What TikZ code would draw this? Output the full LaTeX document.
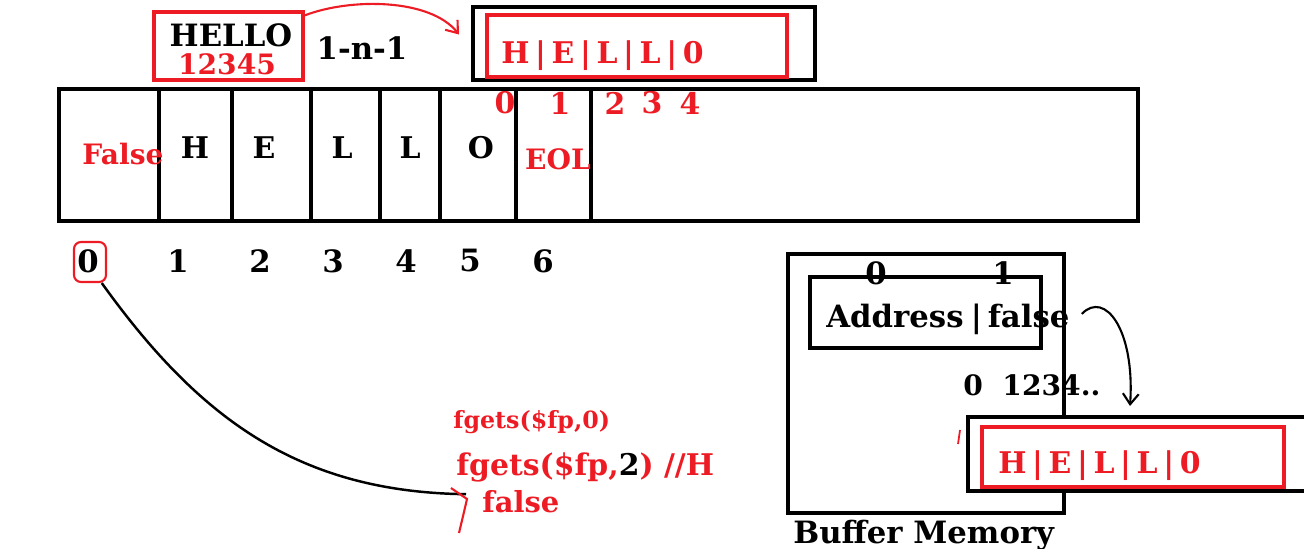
\documentclass[tikz,border=0pt]{standalone}
\usepackage{fontspec}
\setmainfont{DejaVu Serif}
\usepackage{tikz}
\usetikzlibrary{arrows.meta,fit}
\definecolor{paintred}{RGB}{237,28,36}
\newcommand{\sepbar}{\hspace{3.2pt}|\hspace{3.2pt}}

\begin{document}
\begin{tikzpicture}[
  x=0.02cm, y=-0.02cm,
  >={Straight Barb[length=6pt,width=9pt]},
  blackbox/.style={draw=black, line width=2.3pt, inner sep=0pt},
  redbox/.style={draw=paintred, line width=2.2pt, inner sep=0pt},
  bigtext/.style={font=\bfseries\fontsize{17.5}{17.5}\selectfont, inner sep=0pt},
  cellchar/.style={font=\bfseries\fontsize{17}{17}\selectfont, inner sep=0pt},
  notetext/.style={font=\bfseries\fontsize{13.5}{13.5}\selectfont, inner sep=0pt, text=paintred},
  redtext/.style={text=paintred},
]
\useasboundingbox (0,0) rectangle (1304,548);

% === Source string ===
\node[redbox, fit={(154,12)(303,80)}] (hellobox) {};
\node[bigtext] (hello) at (231,35) {HELLO};
\node[bigtext, redtext, font=\bfseries\fontsize{16}{16}\selectfont] (digits) at (227,64) {12345};
\node[bigtext] (ratio) at (362,48) {1-n-1};

% === Read buffer (top) ===
\node[blackbox, fit={(473,7)(815,80)}] (topbuf) {};
\node[redbox, fit={(487,15)(787,77)}] (topred) {};
\node[cellchar, redtext, anchor=base west] (topchars) at (501,63)
  {H\sepbar E\sepbar L\sepbar L\sepbar 0};
\foreach \x/\d in {505/0,560/1,615/2,652/3,690/4}
  \node[cellchar, redtext] (top\d) at (\x,103) {\d};

\draw[paintred, line width=1.2pt, ->] ([yshift=-3pt]hellobox.north east)
  .. controls (350,-2) and (430,-2) .. ([shift={(-12,-9)}]topbuf.west);

% === File array ===
\draw[blackbox] (59,89) rectangle (1138,221);
\foreach \x in {159,232,311,380,440,516,591}
  \draw[blackbox] (\x,89) -- (\x,221);

\node[cellchar, redtext, font=\bfseries\fontsize{16}{16}\selectfont, anchor=base]
  (falsecell) at (123,164) {False};
\foreach \x/\c [count=\i] in {195/H,264/E,342/L,410/L,481/O}
  \node[cellchar] (cell\i) at (\x,148) {\c};
\node[cellchar, redtext, font=\bfseries\fontsize{16}{16}\selectfont] (eol) at (558,159) {EOL};

\foreach \x [count=\i from 0] in {88,178,260,333,406,470,543}
  \node[bigtext] (idx\i) at (\x,261) {\i};
\node[draw=paintred, line width=1.2pt, rounded corners=4pt, inner sep=0pt,
  fit={(74,242)(106,282)}] (zeromark) {};

% === fgets calls ===
\node[notetext, anchor=base west] (call0) at (453,428) {fgets(\$fp,0)};
\node[notetext, font=\bfseries\fontsize{17}{17}\selectfont, anchor=base west] (call2)
  at (456,475) {fgets(\$fp,\textcolor{black}{2}) //H};
\node[notetext, font=\bfseries\fontsize{16.5}{16.5}\selectfont, anchor=base west] (falsenote)
  at (482,512) {false};

\draw[line width=1.4pt] ([xshift=-3pt]zeromark.south east)
  .. controls (200,420) and (300,492) .. ([shift={(-16,-7)}]falsenote.west);
\draw[paintred, line width=1.2pt] (451,488) -- (467,499) .. controls (464,512) .. (459,533);

% === Buffer memory ===
\draw[blackbox] (788,254) rectangle (1064,513);
\node[blackbox, fit={(810,277)(1041,348)}] (addrbox) {};
\node[bigtext, anchor=base west] (addr) at (826,327) {Address\hspace{1pt}\sepbar false};
\node[bigtext] (slot0) at (876,273) {0};
\node[bigtext] (slot1) at (1003,273) {1};
\node[bigtext, font=\bfseries\fontsize{16}{16}\selectfont, anchor=base west]
  (offsets) at (963,395) {0\ \ 1234..};

\node[blackbox, fill=white, fit={(968,417)(1312,491)}] (lowbuf) {};
\node[redbox, fit={(982,427)(1284,487)}] (lowred) {};
\node[cellchar, redtext, anchor=base west] (lowchars) at (998,473)
  {H\sepbar E\sepbar L\sepbar L\sepbar 0};
\draw[paintred, line width=1pt] (960,430) -- (958,444);

\draw[line width=1.2pt, ->] ([shift={(12,-5)}]addr.east)
  .. controls (1105,290) and (1135,330) .. ([shift={(-10,-9)}]lowbuf.north);

\node[bigtext, anchor=base west] (bufname) at (793,543) {Buffer Memory};

\end{tikzpicture}
\end{document}
